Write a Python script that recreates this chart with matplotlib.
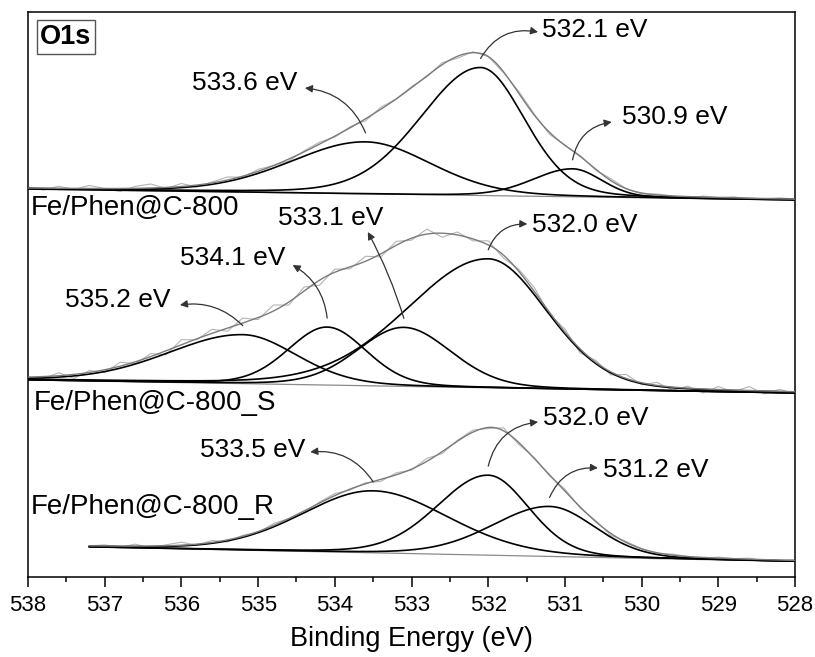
import numpy as np
import matplotlib.pyplot as plt
from matplotlib.ticker import MultipleLocator

plt.rcParams['font.family'] = ['Liberation Sans', 'DejaVu Sans']

# --- fitted O1s components: centre (eV), height, FWHM on high-BE side, FWHM on low-BE side ---
# top spectrum
top_center = [533.6, 532.1, 530.9]
top_height = [52, 128, 28]
top_fwhm_hi = [2.3, 1.85, 1.22]
top_fwhm_lo = [2.0, 1.35, 0.9]
top_range = [538.0, 528.0]
top_bg = [388, 377]
top_noise = [1, -2, 2, -1, 3, 0, -3, 2, 4, -1,
             3, -2, 1, 3, -1, 2, 0, -2, 1, 2,
             -1, 1, -2, 2, 0, 1, -1, 2, -2, 1,
             0, -1, 2, 1, -2, 0, 1, -1, 2, 0,
             -1, 1, 0, -2, 1, 0, 1, -1, 0, 1, 0]

# middle spectrum
mid_center = [535.2, 534.1, 533.1, 532.0]
mid_height = [49, 58, 59, 129]
mid_fwhm_hi = [2.3, 1.2, 1.43, 2.5]
mid_fwhm_lo = [1.65, 1.2, 1.45, 1.8]
mid_range = [538.0, 528.0]
mid_bg = [197, 184]
mid_noise = [0, -2, 3, -4, 2, -3, 4, -2, 3, -4,
             5, -1, 4, -3, 5, -2, 6, -3, 4, -5,
             3, -2, 5, -3, 4, -2, 5, -4, 3, -2,
             4, -3, 2, 4, -2, 3, -4, 2, -3, 4,
             -2, 3, -3, 2, -4, 3, -2, 4, -3, 2, -2]

# bottom spectrum
bot_center = [533.5, 532.0, 531.2]
bot_height = [62, 80, 50]
bot_fwhm_hi = [2.2, 1.57, 1.76]
bot_fwhm_lo = [2.3, 1.25, 1.4]
bot_range = [537.2, 528.0]
bot_bg = [30, 15.5]
bot_noise = [0, 1, -1, 2, -2, 1, 3, -1, 2, -2,
             1, -1, 2, 0, -2, 1, 2, -1, 1, -2,
             2, -1, 3, -2, 1, 2, -1, 3, -2, 1,
             -1, 2, -1, 1, -2, 1, 0, -1, 1, 0,
             -1, 1, 0, 1, -1, 0, 1]

sample_names = ['Fe/Phen@C-800', 'Fe/Phen@C-800_S', 'Fe/Phen@C-800_R']


def peak(e, c, h, w_hi, w_lo, mix=0.15):
    # asymmetric Gaussian-Lorentzian line shape
    w = np.where(e > c, w_hi, w_lo)
    x = (e - c) / w
    g = np.exp(-4 * np.log(2) * x ** 2)
    lor = 1.0 / (1 + 4 * x ** 2)
    return h * ((1 - mix) * g + mix * lor)


def background(e, rng, bg):
    return np.interp(e, [rng[1], rng[0]], [bg[1], bg[0]])


fig = plt.figure(figsize=(8.15, 6.57), dpi=100)
ax = fig.add_axes([0.0344, 0.1218, 0.9411, 0.8599])

spectra = [
    (top_center, top_height, top_fwhm_hi, top_fwhm_lo, top_range, top_bg, top_noise),
    (mid_center, mid_height, mid_fwhm_hi, mid_fwhm_lo, mid_range, mid_bg, mid_noise),
    (bot_center, bot_height, bot_fwhm_hi, bot_fwhm_lo, bot_range, bot_bg, bot_noise),
]

peak_tops = []
for center, height, w_hi, w_lo, rng, bg, noise in spectra:
    e = np.linspace(rng[0], rng[1], 600)
    base = background(e, rng, bg)
    comps = [peak(e, c, h, a, b) for c, h, a, b in zip(center, height, w_hi, w_lo)]
    env = base + np.sum(comps, axis=0)

    # raw counts
    e_raw = np.linspace(rng[0], rng[1], len(noise))
    raw = background(e_raw, rng, bg) + np.sum(
        [peak(e_raw, c, h, a, b) for c, h, a, b in zip(center, height, w_hi, w_lo)], axis=0
    ) + np.array(noise)
    ax.plot(e_raw, raw, color='#b4b4b4', lw=0.8, zorder=1)

    ax.plot(e, base, color='#8a8a8a', lw=0.9, zorder=2)
    for comp in comps:
        ax.plot(e, base + comp, color='black', lw=1.2, zorder=3)
    ax.plot(e, env, color='#7a7a7a', lw=1.0, zorder=4)

    tops = []
    for c, h in zip(center, height):
        tops.append((c, background(np.array([c]), rng, bg)[0] + h))
    peak_tops.append(tops)

# peak labels: text position, arrow head position, arc curvature
label_layout = [
    [((535.86, 494), (534.39, 489), 0.3), ((531.30, 547), (531.35, 545), -0.35),
     ((530.26, 460), (530.39, 455), -0.35)],
    [((537.52, 277), (536.02, 272), 0.25), ((536.02, 319), (534.55, 312), 0.25),
     ((534.74, 359), (533.57, 345), 0.05), ((531.43, 352), (531.49, 353), -0.35)],
    [((535.76, 127), (534.32, 125), 0.3), ((531.29, 159), (531.35, 155), -0.35),
     ((530.50, 107), (530.57, 109), -0.35)],
]

centers = [top_center, mid_center, bot_center]
for tops, layout, cs in zip(peak_tops, label_layout, centers):
    for (c, ytop), (txt_pos, head, rad), cval in zip(tops, layout, cs):
        label = f'{cval:.1f} eV'
        ax.text(txt_pos[0], txt_pos[1], label, fontsize=19, ha='left', va='center', zorder=6)
        ax.annotate('', xy=head, xytext=(c, ytop + 9),
                    arrowprops=dict(arrowstyle='-|>', color='#333333', lw=0.9,
                                    mutation_scale=11, shrinkA=0, shrinkB=0,
                                    connectionstyle=f'arc3,rad={rad}'),
                    zorder=5)

ax.text(537.84, 540, 'O1s', fontsize=19.5, fontweight='bold', ha='left', va='center',
        bbox=dict(boxstyle='square,pad=0.14', fc='white', ec='#555555', lw=1.0), zorder=6)
ax.text(537.97, 369, sample_names[0], fontsize=20, ha='left', va='center', zorder=6)
ax.text(537.93, 174, sample_names[1], fontsize=20, ha='left', va='center', zorder=6)
ax.text(537.97, 70, sample_names[2], fontsize=20, ha='left', va='center', zorder=6)

ax.set_xlim(538, 528)
ax.set_ylim(0, 565)
ax.xaxis.set_major_locator(MultipleLocator(1))
ax.xaxis.set_minor_locator(MultipleLocator(0.5))
ax.tick_params(axis='x', which='major', direction='out', length=7, width=1.1,
               labelsize=16, pad=6)
ax.tick_params(axis='x', which='minor', direction='out', length=3.5, width=1.1)
ax.set_yticks([])
for s in ax.spines.values():
    s.set_linewidth(1.1)
ax.set_xlabel('Binding Energy (eV)', fontsize=19.5, labelpad=7)

fig.savefig('out.png', dpi=100)
